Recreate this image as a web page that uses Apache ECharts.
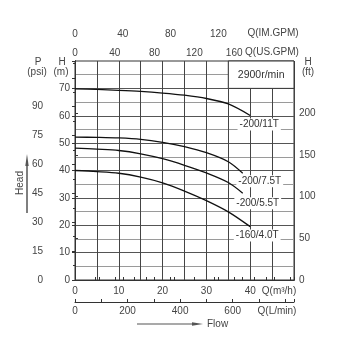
<!DOCTYPE html>
<html>
<head>
<meta charset="utf-8">
<script src="https://cdn.jsdelivr.net/npm/echarts@6/dist/echarts.min.js"></script>
<style>
  html, body { margin: 0; padding: 0; background: #fff; }
  #chart { width: 345px; height: 337px; }
</style>
</head>
<body>
<div id="chart"></div>
<script>
// Pump performance curves at 2900 r/min: head H (m) against flow Q (m³/h)
const flow_200_11T = [0, 5, 10, 15, 20, 25, 30, 35, 40];
const head_200_11T = [69.8, 69.6, 69.3, 68.9, 68.3, 67.5, 66.3, 64.3, 60.1];

const flow_200_75T = [0, 5, 10, 15, 20, 25, 30, 35, 38.3];
const head_200_75T = [52.2, 52.1, 51.9, 51.4, 50.3, 48.7, 46.5, 43.2, 39.0];

const flow_200_55T = [0, 5, 10, 15, 20, 25, 30, 35, 38.3];
const head_200_55T = [48.2, 47.8, 47.3, 46.1, 44.3, 41.9, 39.1, 35.6, 31.7];

const flow_160_40T = [0, 5, 10, 15, 20, 25, 30, 35, 40];
const head_160_40T = [40.0, 39.6, 39.0, 37.6, 35.5, 32.5, 29.0, 24.9, 19.5];

const curveNames = ['-200/11T', '-200/7.5T', '-200/5.5T', '-160/4.0T'];
const speedText = '2900r/min';

// Tick labels on each scale
const headMTicks = [0, 10, 20, 30, 40, 50, 60, 70];
const psiTicks = [0, 15, 30, 45, 60, 75, 90];
const ftTicks = [0, 50, 100, 150, 200];
const m3hTicks = [0, 10, 20, 30, 40];
const lminTicks = [0, 200, 400, 600];
const usgpmTicks = [0, 40, 80, 120, 160];
const imgpmTicks = [0, 40, 80, 120];

// Unit conversions for the secondary scales
const Q_MAX = 50, H_MAX = 80;
const M_TO_PSI = 1.4219, M_TO_FT = 3.28084;
const M3H_TO_LMIN = 16.6667, M3H_TO_USGPM = 4.40287, M3H_TO_IMGPM = 3.66615;

const FONT = 'Liberation Sans';
const TXT = '#444';
const AXIS = '#333';

const curves = [
  [flow_200_11T, head_200_11T],
  [flow_200_75T, head_200_75T],
  [flow_200_55T, head_200_55T],
  [flow_160_40T, head_160_40T]
];
// label placement relative to each curve's last point (pixels)
const labelOffsets = [[9, 9], [17, 8], [15, 10], [7, 9]];

const series = curves.map(([q, h], i) => {
  const pts = q.map((v, k) => [v, h[k]]);
  const last = pts[pts.length - 1];
  const s = {
    type: 'line',
    xAxisIndex: 0,
    yAxisIndex: 0,
    data: pts,
    smooth: 0.3,
    symbol: 'none',
    z: 5,
    lineStyle: { color: '#111', width: 1.3 },
    markPoint: {
      symbol: 'circle',
      symbolSize: 0,
      silent: true,
      data: [{ coord: last, name: curveNames[i] }],
      label: {
        show: true,
        position: 'inside',
        offset: labelOffsets[i],
        formatter: curveNames[i],
        color: '#333',
        fontFamily: FONT,
        fontSize: 10,
        backgroundColor: '#fff',
        padding: [1, 2]
      }
    }
  };
  if (i === 0) {
    s.markArea = {
      silent: true,
      itemStyle: { color: '#fff', borderColor: AXIS, borderWidth: 1 },
      label: {
        show: true, position: 'inside', color: '#333',
        fontFamily: FONT, fontSize: 10.5
      },
      data: [[{ coord: [35, 70], name: speedText }, { coord: [Q_MAX, H_MAX] }]]
    };
  }
  return s;
});

const labelStyle = { color: TXT, fontFamily: FONT, fontSize: 10 };

const chart = echarts.init(document.getElementById('chart'), null, { renderer: 'canvas' });

const text = (x, y, t, align, extra) => Object.assign({
  type: 'text', x, y, silent: true,
  style: { text: t, fill: TXT, font: '10px "' + FONT + '"', align: align || 'center', verticalAlign: 'middle' }
}, extra || {});

chart.setOption({
  animation: false,
  backgroundColor: '#fff',
  grid: { left: 75, top: 61, width: 219, height: 219, show: true, borderColor: AXIS, borderWidth: 1 },
  xAxis: [
    { // Q (m³/h)
      type: 'value', position: 'bottom', min: 0, max: Q_MAX, interval: 5,
      axisLine: { show: true, lineStyle: { color: AXIS } },
      axisTick: { show: false },
      splitLine: { show: true, lineStyle: { color: '#454545', width: 1 } },
      axisLabel: Object.assign({ customValues: m3hTicks, margin: 6 }, labelStyle)
    },
    { // Q (US.GPM)
      type: 'value', position: 'top', min: 0, max: Q_MAX * M3H_TO_USGPM, interval: 20,
      axisLine: { show: true, lineStyle: { color: AXIS } },
      axisTick: { show: true, length: 3, lineStyle: { color: AXIS } },
      splitLine: { show: false },
      axisLabel: Object.assign({ customValues: usgpmTicks, margin: 3 }, labelStyle)
    },
    { // Q (IM.GPM)
      type: 'value', position: 'top', offset: 19, min: 0, max: Q_MAX * M3H_TO_IMGPM, interval: 20,
      axisLine: { show: true, lineStyle: { color: AXIS } },
      axisTick: { show: true, length: 3, lineStyle: { color: AXIS } },
      splitLine: { show: false },
      axisLabel: Object.assign({ customValues: imgpmTicks, margin: 3 }, labelStyle)
    },
    { // Q (L/min)
      type: 'value', position: 'bottom', offset: 22, min: 0, max: Q_MAX * M3H_TO_LMIN, interval: 100,
      axisLine: { show: true, lineStyle: { color: AXIS } },
      axisTick: { show: true, inside: true, length: 3, lineStyle: { color: AXIS } },
      splitLine: { show: false },
      axisLabel: Object.assign({ customValues: lminTicks, margin: 4 }, labelStyle)
    }
  ],
  yAxis: [
    { // H (m)
      type: 'value', position: 'left', min: 0, max: H_MAX, interval: 10,
      axisLine: { show: true, lineStyle: { color: AXIS } },
      axisTick: { show: true, length: 3, customValues: headMTicks, lineStyle: { color: AXIS } },
      splitLine: { show: true, lineStyle: { color: '#555', width: 1 } },
      minorTick: { show: false, splitNumber: 2 },
      minorSplitLine: { show: true, lineStyle: { color: '#9a9a9a', width: 1 } },
      axisLabel: Object.assign({ customValues: headMTicks, margin: 5 }, labelStyle)
    },
    { // P (psi)
      type: 'value', position: 'left', offset: 26, min: 0, max: H_MAX * M_TO_PSI, interval: 15,
      axisLine: { show: true, lineStyle: { color: AXIS } },
      axisTick: { show: true, length: 3, lineStyle: { color: AXIS } },
      minorTick: { show: true, splitNumber: 2, length: 2, lineStyle: { color: AXIS } },
      splitLine: { show: false },
      axisLabel: Object.assign({ customValues: psiTicks, margin: 6 }, labelStyle)
    },
    { // H (ft)
      type: 'value', position: 'right', min: 0, max: H_MAX * M_TO_FT, interval: 50,
      axisLine: { show: true, lineStyle: { color: AXIS } },
      axisTick: { show: true, length: 3, customValues: ftTicks, lineStyle: { color: AXIS } },
      splitLine: { show: false },
      axisLabel: Object.assign({ customValues: ftTicks, margin: 5 }, labelStyle)
    }
  ],
  series: series,
  graphic: [
    text(273, 33, 'Q(IM.GPM)'),
    text(272, 52, 'Q(US.GPM)'),
    text(279, 291, 'Q(m³/h)'),
    text(277, 311, 'Q(L/min)'),
    text(38, 62, 'P'),
    text(37, 72, '(psi)'),
    text(62, 62, 'H'),
    text(61, 72, '(m)'),
    text(308, 62, 'H'),
    text(308, 72, '(ft)'),
    // Head arrow
    { type: 'line', silent: true, shape: { x1: 27, y1: 213, x2: 27, y2: 162 },
      style: { stroke: '#555', lineWidth: 1.5 } },
    { type: 'polygon', silent: true, shape: { points: [[27, 154], [25.3, 166], [28.7, 166]] },
      style: { fill: '#555' } },
    text(20, 183, 'Head', 'center', { rotation: Math.PI / 2 }),
    // Flow arrow
    { type: 'line', silent: true, shape: { x1: 137, y1: 324, x2: 194, y2: 324 },
      style: { stroke: '#555', lineWidth: 1.2 } },
    { type: 'polygon', silent: true, shape: { points: [[203, 324], [192, 322.3], [192, 325.7]] },
      style: { fill: '#555' } },
    text(207, 324.5, 'Flow', 'left')
  ]
});
</script>
</body>
</html>
